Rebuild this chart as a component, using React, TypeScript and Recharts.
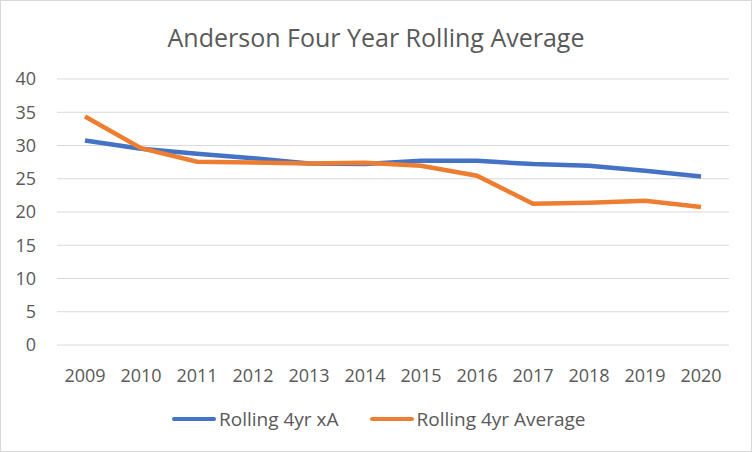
import { LineChart, Line, XAxis, YAxis, CartesianGrid } from 'recharts'

const years = ['2009', '2010', '2011', '2012', '2013', '2014', '2015', '2016', '2017', '2018', '2019', '2020']
const rollingXA = [30.75, 29.5, 28.75, 28.1, 27.3, 27.2, 27.7, 27.7, 27.2, 26.95, 26.2, 25.35]
const rollingAvg = [34.35, 29.6, 27.55, 27.45, 27.3, 27.4, 26.95, 25.45, 21.25, 21.4, 21.7, 20.75]
const yTicks = [0, 5, 10, 15, 20, 25, 30, 35, 40]

const BLUE = '#4472C4'
const ORANGE = '#ED7D31'
const TEXT = '#595959'
const FONT = '"Open Sans", sans-serif'

const data = years.map((year, i) => ({
  year,
  xa: rollingXA[i],
  avg: rollingAvg[i],
}))

function LegendItem({ color, label }: { color: string; label: string }) {
  return (
    <div style={{ display: 'flex', alignItems: 'center', marginRight: 31 }}>
      <div style={{ width: 44, height: 4, borderRadius: 2, background: color, marginRight: 3 }} />
      <span>{label}</span>
    </div>
  )
}

export default function App() {
  return (
    <div
      style={{
        position: 'absolute',
        left: 0,
        top: 0,
        width: 750,
        height: 450,
        border: '1px solid #d9d9d9',
        background: '#fff',
        fontFamily: FONT,
        color: TEXT,
      }}
    >
      <div
        style={{
          position: 'absolute',
          top: 19,
          width: '100%',
          textAlign: 'center',
          fontSize: 25,
        }}
      >
        Anderson Four Year Rolling Average
      </div>
      <LineChart
        width={750}
        height={450}
        data={data}
        margin={{ top: 78, right: 22, left: 0, bottom: 66 }}
      >
        <CartesianGrid vertical={false} stroke="#d9d9d9" strokeWidth={1} />
        <XAxis
          dataKey="year"
          axisLine={false}
          tickLine={false}
          tickSize={0}
          tickMargin={24}
          height={40}
          padding={{ left: 28, right: 28 }}
          tick={{ fill: TEXT, fontSize: 18, fontFamily: FONT }}
          interval={0}
        />
        <YAxis
          domain={[0, 40]}
          ticks={yTicks}
          axisLine={false}
          tickLine={false}
          tickSize={0}
          tickMargin={21}
          width={56}
          tick={{ fill: TEXT, fontSize: 18, fontFamily: FONT }}
        />
        <Line
          type="linear"
          dataKey="xa"
          stroke={BLUE}
          strokeWidth={4.5}
          dot={false}
          isAnimationActive={false}
        />
        <Line
          type="linear"
          dataKey="avg"
          stroke={ORANGE}
          strokeWidth={4.5}
          dot={false}
          isAnimationActive={false}
        />
      </LineChart>
      <div
        style={{
          position: 'absolute',
          top: 405,
          left: 171,
          display: 'flex',
          fontSize: 19,
        }}
      >
        <LegendItem color={BLUE} label="Rolling 4yr xA" />
        <LegendItem color={ORANGE} label="Rolling 4yr Average" />
      </div>
    </div>
  )
}
